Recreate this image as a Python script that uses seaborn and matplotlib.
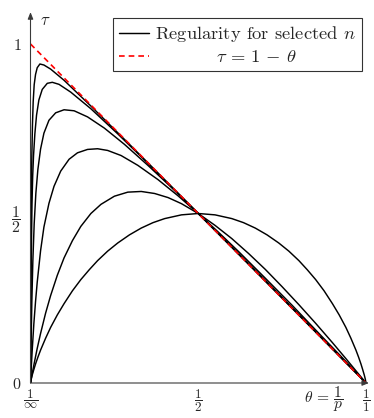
import matplotlib
matplotlib.use("Agg")
import matplotlib.pyplot as plt
import seaborn as sns
import pandas as pd
from matplotlib.lines import Line2D

# ---- data (theta = 1/p, tau) ----
theta_n1 = [0, 0.002, 0.005, 0.01, 0.015, 0.022, 0.03, 0.045, 0.06, 0.08, 0.1, 0.125, 0.15, 0.175,
            0.2, 0.23, 0.26, 0.295, 0.33, 0.365, 0.4, 0.45, 0.5, 0.55, 0.6, 0.635, 0.67, 0.705,
            0.74, 0.77, 0.8, 0.825, 0.85, 0.875, 0.9, 0.92, 0.94, 0.955, 0.97, 0.978, 0.985,
            0.99, 0.995, 0.998, 1]
tau_n1 = [0, 0.011, 0.023, 0.040, 0.056, 0.076, 0.097, 0.132, 0.164, 0.201, 0.234, 0.272, 0.305,
          0.334, 0.361, 0.389, 0.413, 0.437, 0.457, 0.473, 0.485, 0.496, 0.5, 0.496, 0.485,
          0.473, 0.457, 0.437, 0.413, 0.389, 0.361, 0.334, 0.305, 0.272, 0.234, 0.201, 0.164,
          0.132, 0.097, 0.076, 0.056, 0.040, 0.023, 0.011, 0]

theta_n2 = [0, 0.005, 0.01, 0.02, 0.03, 0.045, 0.06, 0.08, 0.1, 0.125, 0.15, 0.18, 0.21, 0.25,
            0.29, 0.33, 0.37, 0.41, 0.45, 0.5, 0.55, 0.6, 0.65, 0.7, 0.75, 0.8, 0.85, 0.9,
            0.94, 0.97, 1]
tau_n2 = [0, 0.027, 0.053, 0.102, 0.146, 0.206, 0.258, 0.318, 0.369, 0.420, 0.462, 0.500, 0.527,
          0.551, 0.563, 0.565, 0.559, 0.547, 0.529, 0.5, 0.465, 0.426, 0.382, 0.335, 0.284,
          0.231, 0.176, 0.119, 0.072, 0.036, 0]

theta_n3 = [0, 0.002, 0.005, 0.01, 0.015, 0.02, 0.03, 0.04, 0.055, 0.07, 0.09, 0.115, 0.14, 0.17,
            0.2, 0.23, 0.27, 0.32, 0.38, 0.44, 0.5, 0.56, 0.62, 0.7, 0.78, 0.86, 0.93, 1]
tau_n3 = [0, 0.04, 0.095, 0.175, 0.24, 0.297, 0.39, 0.46, 0.53, 0.58, 0.625, 0.66, 0.679, 0.689,
          0.691, 0.686, 0.671, 0.642, 0.6, 0.552, 0.5, 0.445, 0.388, 0.309, 0.229, 0.146,
          0.074, 0]

theta_n4 = [0, 0.001, 0.002, 0.004, 0.007, 0.011, 0.016, 0.022, 0.03, 0.04, 0.055, 0.075, 0.1,
            0.13, 0.17, 0.22, 0.28, 0.35, 0.42, 0.5, 0.6, 0.7, 0.8, 0.9, 1]
tau_n4 = [0, 0.07, 0.13, 0.24, 0.36, 0.47, 0.56, 0.63, 0.69, 0.737, 0.775, 0.797, 0.806,
          0.803, 0.785, 0.752, 0.704, 0.642, 0.577, 0.5, 0.402, 0.303, 0.202, 0.101, 0]

theta_n5 = [0, 0.0003, 0.0008, 0.0015, 0.0025, 0.0035, 0.0045, 0.0065, 0.009, 0.013, 0.018,
            0.025, 0.035, 0.05, 0.065, 0.085, 0.12, 0.18, 0.26, 0.35, 0.43, 0.5, 0.65, 0.8, 1]
tau_n5 = [0, 0.06, 0.15, 0.26, 0.38, 0.46, 0.53, 0.61, 0.67, 0.735, 0.79, 0.835, 0.866, 0.884,
          0.887, 0.881, 0.858, 0.809, 0.735, 0.648, 0.569, 0.5, 0.351, 0.201, 0]

theta_n6 = [0, 0.0003, 0.0008, 0.0016, 0.0027, 0.004, 0.0058, 0.008, 0.011, 0.015, 0.02, 0.028,
            0.04, 0.06, 0.1, 0.18, 0.3, 0.5, 0.75, 1]
tau_n6 = [0, 0.15, 0.3, 0.45, 0.57, 0.67, 0.76, 0.83, 0.88, 0.91, 0.93, 0.941,
          0.938, 0.926, 0.893, 0.817, 0.699, 0.5, 0.25, 0]

n_labels = ["n1", "n2", "n3", "n4", "n5", "n6"]
line_theta = [0, 1]
line_tau = [1, 0]

xtick_pos = [0, 0.5, 1]
xtick_labels = [r"$\dfrac{1}{\infty}$", r"$\dfrac{1}{2}$", r"$\dfrac{1}{1}$"]
ytick_pos = [0, 0.5, 1]
ytick_labels = [r"$0$", r"$\dfrac{1}{2}$", r"$1$"]

# ---- style ----
sns.set_style("white")
plt.rcParams["font.family"] = ["serif"]
plt.rcParams["font.serif"] = ["cmr10", "DejaVu Serif"]
plt.rcParams["mathtext.fontset"] = "cm"
plt.rcParams["axes.unicode_minus"] = False

frames = []
for lab, th, ta in zip(n_labels,
                       [theta_n1, theta_n2, theta_n3, theta_n4, theta_n5, theta_n6],
                       [tau_n1, tau_n2, tau_n3, tau_n4, tau_n5, tau_n6]):
    frames.append(pd.DataFrame({"theta": th, "tau": ta, "n": lab}))
df = pd.concat(frames, ignore_index=True)
df_line = pd.DataFrame({"theta": line_theta, "tau": line_tau})

W, H = 374, 418
fig = plt.figure(figsize=(W / 100, H / 100), dpi=100)
x0, x1 = 30.5, 366.0
y0, y1 = 383.0, 44.0
xmax, ymax = 1.009, 1.094
ax = fig.add_axes([x0 / W, 1 - y0 / H, (x1 - x0) * xmax / W, (y0 - y1) * ymax / H])

dash = (0, (3.4, 2.4))
sns.lineplot(data=df, x="theta", y="tau", units="n", estimator=None, sort=False,
             color="black", lw=1.05, ax=ax, legend=False)
sns.lineplot(data=df_line, x="theta", y="tau", color="red", lw=1.2, ax=ax,
             legend=False, linestyle=dash)

ax.set_xlim(0, xmax)
ax.set_ylim(0, ymax)
for s in ax.spines.values():
    s.set_visible(False)
axcol = "#3a3a3a"
arrow = dict(arrowstyle="-|>,head_length=0.4,head_width=0.16", color=axcol, lw=0.8,
             shrinkA=0, shrinkB=0)
ax.annotate("", xy=(1, 0), xytext=(0, 0), xycoords="axes fraction", arrowprops=arrow)
ax.annotate("", xy=(0, 1), xytext=(0, 0), xycoords="axes fraction", arrowprops=arrow)

ax.set_xticks(xtick_pos)
ax.set_xticklabels(xtick_labels, fontsize=9.4)
ax.set_yticks(ytick_pos)
ax.set_yticklabels(ytick_labels, fontsize=11.5)
ax.tick_params(axis="both", direction="inout", length=5, width=0.7, color=axcol)
ax.tick_params(axis="x", pad=1)
ax.tick_params(axis="y", pad=4)
ax.set_xlabel("")
ax.set_ylabel("")

ax.text(0.027, 1.07, r"$\tau$", fontsize=12, ha="left", va="center")
ax.text(0.873, -0.048, r"$\theta \,=\, \dfrac{1}{p}$", fontsize=11.2, ha="center", va="center")

handles = [Line2D([], [], color="black", lw=1.05),
           Line2D([], [], color="red", lw=1.2, linestyle=dash)]
labels = [r"Regularity for selected $n$", "          " + r"$\tau \,=\, 1 \,-\, \theta$"]
ax_w = (x1 - x0) * xmax
ax_h = (y0 - y1) * ymax
leg = ax.legend(handles, labels, loc="upper right",
                bbox_to_anchor=((362 - x0) / ax_w, (y0 - 18) / ax_h),
                fontsize=13.3, frameon=True, fancybox=False, edgecolor="black",
                handlelength=1.65, handletextpad=0.33, borderpad=0.33, labelspacing=0.28,
                borderaxespad=0)
leg.get_frame().set_linewidth(0.8)

fig.savefig("out.png", dpi=100)
